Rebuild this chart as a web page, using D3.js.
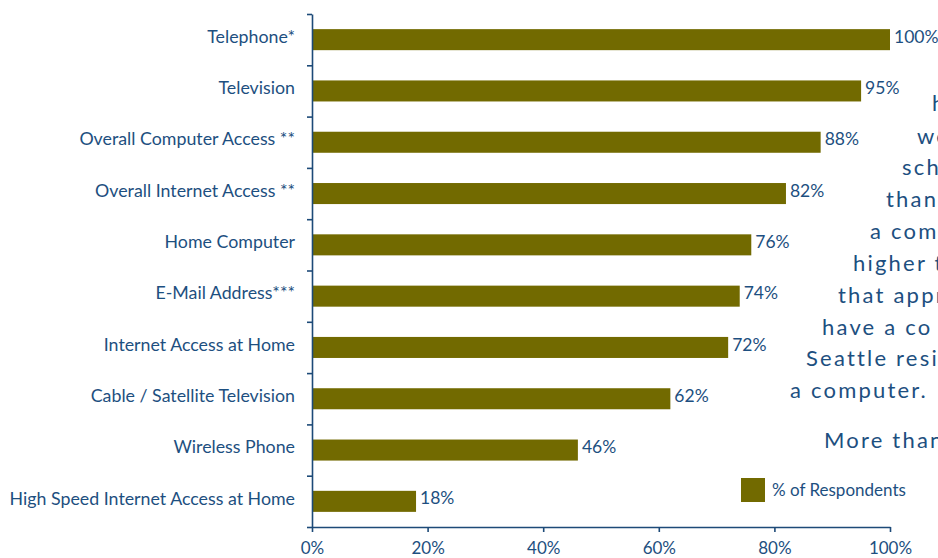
<!DOCTYPE html>
<html>
<head>
<meta charset="utf-8">
<script src="https://cdn.jsdelivr.net/npm/d3@7"></script>
<style>
  body { margin: 0; background: #fff; }
  svg { display: block; overflow: hidden; }
  text { font-family: Lato, "Liberation Sans", sans-serif; fill: #1d4f80; }
</style>
</head>
<body>
<div id="chart"></div>
<script>
// data
var categories = ["Telephone*", "Television", "Overall Computer Access **", "Overall Internet Access **",
    "Home Computer", "E-Mail Address***", "Internet Access at Home", "Cable / Satellite Television",
    "Wireless Phone", "High Speed Internet Access at Home"];
var values = [100, 95, 88, 82, 76, 74, 72, 62, 46, 18];
var xTicks = [0, 20, 40, 60, 80, 100];
var seriesName = "% of Respondents";
// side text: only the part that shows before the right edge of the page
var sideLines = ["h", "we", "sch", "than", "a com", "higher t", "that appr",
    "have a co", "Seattle resid", "a computer.", "More than"];

var width = 938, height = 558;
var margin = {top: 14, right: 48, bottom: 31, left: 312};
var barColor = "#726a00", axisColor = "#1d4a78";
var font = "Lato, 'Liberation Sans', sans-serif";

var svg = d3.select("#chart").append("svg")
    .attr("width", width)
    .attr("height", height);

var x = d3.scaleLinear()
    .domain([0, 100])
    .range([margin.left, width - margin.right]);

var y = d3.scaleBand()
    .domain(categories)
    .range([margin.top, height - margin.bottom])
    .paddingInner(0.59)
    .paddingOuter(0.295);

// ticks on the y axis sit between the bands
var yEdge = d3.scaleLinear()
    .domain([0, categories.length])
    .range([margin.top, height - margin.bottom]);

var g = svg.append("g");

g.selectAll(".bar")
    .data(values)
    .enter().append("rect")
    .attr("class", "bar")
    .attr("fill", barColor)
    .attr("x", x(0))
    .attr("y", function(d, i) { return y(categories[i]); })
    .attr("width", function(d) { return x(d) - x(0); })
    .attr("height", y.bandwidth());

g.selectAll(".val")
    .data(values)
    .enter().append("text")
    .attr("class", "val")
    .attr("x", function(d) { return x(d) + 4; })
    .attr("y", function(d, i) { return y(categories[i]) + y.bandwidth() / 2 - 3; })
    .attr("dy", "0.35em")
    .style("font-size", "17.5px")
    .text(function(d) { return d + "%"; });

g.selectAll(".cat")
    .data(categories)
    .enter().append("text")
    .attr("class", "cat")
    .attr("x", margin.left - 17)
    .attr("y", function(d) { return y(d) + y.bandwidth() / 2 - 3; })
    .attr("dy", "0.35em")
    .attr("text-anchor", "end")
    .style("font-size", "17.8px")
    .text(function(d) { return d; });

var xAxis = g.append("g")
    .attr("transform", "translate(0," + (height - margin.bottom) + ")")
    .call(d3.axisBottom(x).tickValues(xTicks).tickSize(5).tickSizeOuter(0).tickPadding(10)
        .tickFormat(function(d) { return d + "%"; }));

var yAxis = g.append("g")
    .attr("transform", "translate(" + margin.left + ",0)")
    .call(d3.axisLeft(yEdge).ticks(categories.length).tickSize(5).tickSizeOuter(0).tickFormat(""));

[xAxis, yAxis].forEach(function(a) {
    a.selectAll("path, line").attr("stroke", axisColor).attr("stroke-width", 1.6);
    a.selectAll("text").attr("fill", "#1d4f80").style("font-size", "17px")
        .style("font-family", font);
});

// legend
var legend = svg.append("g").attr("transform", "translate(741,478)");
legend.append("rect").attr("width", 24).attr("height", 24).attr("fill", barColor);
legend.append("text").attr("x", 31).attr("y", 12).attr("dy", "0.35em")
    .style("font-size", "17px").text(seriesName);

// side paragraph
var sideX = [932, 917, 902, 886, 870, 853, 838, 822, 806, 790, 824];
var sideY = [103, 136, 167, 199, 231, 263, 295, 327, 358, 390, 440];
svg.append("g").selectAll("text")
    .data(sideLines)
    .enter().append("text")
    .attr("x", function(d, i) { return sideX[i]; })
    .attr("y", function(d, i) { return sideY[i]; })
    .attr("dy", "0.35em")
    .style("font-size", "22px")
    .style("letter-spacing", "2.2px")
    .text(function(d) { return d; });
</script>
</body>
</html>
